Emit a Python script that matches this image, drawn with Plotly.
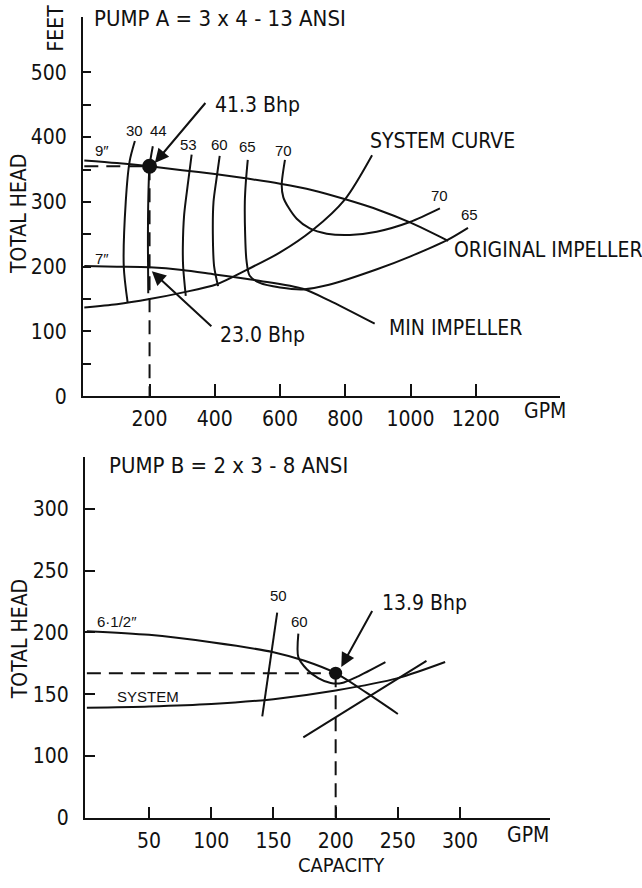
import plotly.graph_objects as go

# ---------------- Pump A (top panel) ----------------
a_orig_q = [0, 100, 200, 300, 400, 500, 600, 700, 800, 900, 1000, 1115]
a_orig_h = [364, 360, 355, 349, 343, 336, 328, 318, 304, 288, 268, 240]

a_min_q = [0, 100, 200, 300, 400, 500, 540, 670, 750, 890]
a_min_h = [201, 200, 199, 195, 188, 181, 178, 166, 148, 112]

a_sys_q = [0, 100, 200, 300, 406, 501, 600, 701, 799, 882]
a_sys_h = [137, 142, 150, 160, 173, 196, 222, 257, 304, 372]

a_eff30_q = [155, 139, 127, 121, 133]
a_eff30_h = [394, 363, 300, 200, 144]
a_eff44_q = [210, 200, 196, 195, 196]
a_eff44_h = [386, 355, 300, 230, 159]
a_eff53_q = [329, 318, 306, 302, 303, 311]
a_eff53_h = [373, 330, 280, 230, 200, 155]
a_eff60_q = [415, 405, 396, 394, 398, 410]
a_eff60_h = [371, 335, 300, 250, 200, 170]
a_eff65_q = [501, 495, 492, 493, 497, 507, 538, 600, 670, 750, 897, 1000, 1112, 1176]
a_eff65_h = [365, 330, 300, 250, 210, 186, 175, 168, 165, 172, 196, 216, 241, 260]
a_eff70_q = [615, 605, 610, 625, 651, 691, 743, 814, 896, 998, 1090]
a_eff70_h = [365, 326, 307, 292, 274, 259, 251, 249, 254, 269, 290]

a_op_q, a_op_h = 200, 355

a_x_ticks = [200, 400, 600, 800, 1000, 1200]
a_y_ticks = [0, 50, 100, 150, 200, 250, 300, 350, 400, 450, 500]
a_y_text = ["0", "", "100", "", "200", "", "300", "", "400", "", "500"]

# ---------------- Pump B (bottom panel) ----------------
b_pump_q = [0, 50, 100, 150, 175, 200, 225, 250]
b_pump_h = [201, 198, 192, 184, 177, 167, 151, 134]

b_sys_q = [0, 50, 100, 150, 200, 250, 288]
b_sys_h = [139, 140, 142, 146, 153, 163, 176]

b_eff50_q = [153, 141]
b_eff50_h = [216, 132]
b_eff60_q = [170, 170, 177, 186, 196, 205, 217, 240]
b_eff60_h = [199, 180, 170, 163, 159, 159, 164, 176]
b_effA_q = [174, 273]
b_effA_h = [115, 177]

b_op_q, b_op_h = 200, 167
b_floor = 50  # the axis is broken: the "0" tick sits one step below 100

b_x_ticks = [50, 100, 150, 200, 250, 300]
b_y_ticks = [50, 100, 150, 200, 250, 300]
b_y_text = ["0", "100", "150", "200", "250", "300"]

W, H = 642, 888
NARROW = "Liberation Sans Narrow, Arial Narrow, DejaVu Sans Condensed, sans-serif"
PLAIN = "Liberation Sans, Arial, sans-serif"
BLACK = "#111111"


def px_x(p):
    return p / W


def px_y(p):
    return 1 - p / H


fig = go.Figure()


def curve(q, h, axis, shape="spline", width=2.0, dash=None):
    xa, ya = axis
    fig.add_trace(go.Scatter(
        x=q, y=h, xaxis=xa, yaxis=ya, mode="lines",
        line=dict(color=BLACK, width=width, shape=shape, smoothing=0.8,
                  dash=dash),
        hoverinfo="skip", showlegend=False))


TOP = ("x", "y")
BOT = ("x2", "y2")

# top panel curves
curve(a_orig_q, a_orig_h, TOP)
curve(a_min_q, a_min_h, TOP)
curve(a_sys_q, a_sys_h, TOP)
for q, h in [(a_eff30_q, a_eff30_h), (a_eff44_q, a_eff44_h),
             (a_eff53_q, a_eff53_h), (a_eff60_q, a_eff60_h),
             (a_eff65_q, a_eff65_h), (a_eff70_q, a_eff70_h)]:
    curve(q, h, TOP)
curve([0, a_op_q], [a_op_h, a_op_h], TOP, shape="linear", dash="14px,8px")
curve([a_op_q, a_op_q], [a_op_h, 0], TOP, shape="linear", dash="14px,8px")
fig.add_trace(go.Scatter(x=[a_op_q], y=[a_op_h], xaxis="x", yaxis="y",
                         mode="markers", marker=dict(color=BLACK, size=15),
                         hoverinfo="skip", showlegend=False))

# bottom panel curves
curve(b_pump_q, b_pump_h, BOT)
curve(b_sys_q, b_sys_h, BOT)
curve(b_eff50_q, b_eff50_h, BOT, shape="linear")
curve(b_eff60_q, b_eff60_h, BOT)
curve(b_effA_q, b_effA_h, BOT, shape="linear")
curve([0, b_op_q], [b_op_h, b_op_h], BOT, shape="linear", dash="14px,8px")
curve([b_op_q, b_op_q], [b_op_h, b_floor], BOT, shape="linear", dash="14px,8px")
fig.add_trace(go.Scatter(x=[b_op_q], y=[b_op_h], xaxis="x2", yaxis="y2",
                         mode="markers", marker=dict(color=BLACK, size=13),
                         hoverinfo="skip", showlegend=False))

axis_common = dict(showline=True, linecolor=BLACK, linewidth=2,
                   ticks="inside", tickcolor=BLACK, tickwidth=2,
                   showgrid=False, zeroline=False,
                   tickfont=dict(family=NARROW, size=21, color=BLACK))

fig.update_layout(
    width=W, height=H, margin=dict(l=0, r=0, t=0, b=0),
    paper_bgcolor="white", plot_bgcolor="white",
    xaxis=dict(axis_common, domain=[px_x(83), px_x(560)],
               range=[-4, 1458], anchor="y",
               tickvals=a_x_ticks, ticklen=12, ticklabelstandoff=3),
    yaxis=dict(axis_common, domain=[px_y(401.7), px_y(17)],
               range=[0, 585.8], anchor="x",
               tickvals=a_y_ticks, ticktext=a_y_text, ticklen=8,
               ticklabelstandoff=10),
    xaxis2=dict(axis_common, domain=[px_x(85), px_x(550)],
                range=[-1.5, 372.3], anchor="y2",
                tickvals=b_x_ticks, ticklen=11, ticklabelstandoff=3),
    yaxis2=dict(axis_common, domain=[px_y(829), px_y(463)],
                range=[b_floor, 342.1], anchor="x2",
                tickvals=b_y_ticks, ticktext=b_y_text, ticklen=10,
                ticklabelstandoff=10),
)

ann = []


def label(text, x, y, axis=None, size=21, family=NARROW, xanchor="center",
          angle=0):
    d = dict(text=text, showarrow=False, xanchor=xanchor, yanchor="middle",
             textangle=angle,
             font=dict(family=family, size=size, color=BLACK))
    if axis is None:
        d.update(x=px_x(x), y=px_y(y), xref="paper", yref="paper")
    else:
        d.update(x=x, y=y, xref=axis[0], yref=axis[1])
    ann.append(d)


def arrow(head, tail, axis):
    ann.append(dict(x=head[0], y=head[1], ax=tail[0], ay=tail[1],
                    xref=axis[0], yref=axis[1], axref=axis[0], ayref=axis[1],
                    text="", showarrow=True, arrowhead=2, arrowsize=1.4,
                    arrowwidth=2, arrowcolor=BLACK))


# titles and axis captions
label("PUMP A = 3 x 4 - 13 ANSI", 92, 19, size=22, xanchor="left")
label("FEET", 56, 29, angle=-90)
label("TOTAL HEAD", 19, 217, angle=-90)
label("GPM", 545, 417)
label("PUMP B = 2 x 3 - 8 ANSI", 107, 472, size=22, xanchor="left")
label("TOTAL HEAD", 20, 648, angle=-90)
label("GPM", 528, 846)
label("CAPACITY", 341, 877, size=20)

# top panel labels
label("9\u2033", 53, 379, TOP, size=15, family=PLAIN)
label("7\u2033", 53, 213, TOP, size=15, family=PLAIN)
for txt, q, h in [("30", 155, 410), ("44", 228, 410), ("53", 320, 388),
                  ("60", 415, 388), ("65", 501, 385), ("70", 609, 379),
                  ("70", 1090, 310), ("65", 1182, 281)]:
    label(txt, q, h, TOP, size=15, family=PLAIN)
label("41.3 Bhp", 394, 449, TOP, xanchor="left")
arrow((216, 360), (375, 455), TOP)
label("23.0 Bhp", 409, 94, TOP, xanchor="left")
arrow((207, 193), (394, 106), TOP)
label("SYSTEM CURVE", 869, 394, TOP, xanchor="left")
label("ORIGINAL IMPELLER", 1127, 226, TOP, xanchor="left")
label("MIN IMPELLER", 928, 105, TOP, xanchor="left")

# bottom panel labels
label("6\u00b71/2\u2033", 24, 209, BOT, size=15, family=PLAIN)
label("50", 154, 230, BOT, size=15, family=PLAIN)
label("60", 171, 209, BOT, size=15, family=PLAIN)
label("SYSTEM", 49, 148, BOT, size=15, family=PLAIN)
label("13.9 Bhp", 236, 224, BOT, xanchor="left")
arrow((204.5, 172), (230, 218.6), BOT)

fig.update_layout(annotations=ann)

fig.write_html("out.html")
